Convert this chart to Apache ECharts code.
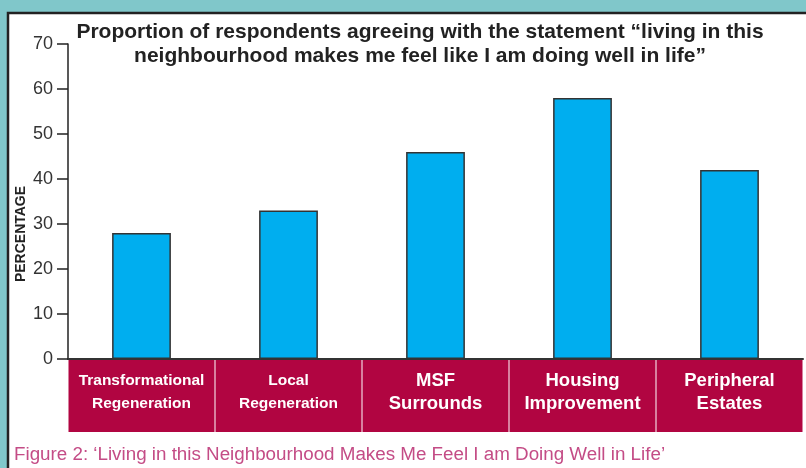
<!DOCTYPE html>
<html><head><meta charset="utf-8">
<script src="https://cdn.jsdelivr.net/npm/echarts@6/dist/echarts.min.js"></script>
<style>html,body{margin:0;padding:0;background:#80c7ca;}#c{width:806px;height:468px;}</style>
</head><body><div id="c"></div>
<script>
const categories = ['Transformational\nRegeneration', 'Local\nRegeneration', 'MSF\nSurrounds', 'Housing\nImprovement', 'Peripheral\nEstates'];
const narrowCats = ['Transformational\nRegeneration', 'Local\nRegeneration'];
const values = [28, 33, 46, 58, 42];
const yTicks = { min: 0, max: 70, interval: 10 };
const titleText = 'Proportion of respondents agreeing with the statement \u201cliving in this\nneighbourhood makes me feel like I am doing well in life\u201d';
const captionText = 'Figure 2: \u2018Living in this Neighbourhood Makes Me Feel I am Doing Well in Life\u2019';
const yName = 'PERCENTAGE';

const chart = echarts.init(document.getElementById('c'), null, {renderer: 'canvas'});
chart.setOption({
  backgroundColor: '#80c7ca',
  animation: false,
  graphic: [
    { type: 'rect', z: -10, shape: { x: 8, y: 13, width: 806, height: 468 }, style: { fill: '#fff', stroke: '#222', lineWidth: 2.5 } },
    { type: 'text', left: 14, top: 445, style: { text: captionText, fill: '#c44c86', font: '18.8px "Liberation Sans", Arial, sans-serif' } },
    { type: 'text', x: 21, y: 234, rotation: Math.PI / 2, style: { text: yName, fill: '#222', font: 'bold 14px "Liberation Sans", Arial, sans-serif', align: 'center', verticalAlign: 'middle' } }
  ],
  title: {
    text: titleText,
    left: 415, top: 15, textAlign: 'center',
    textStyle: { fontFamily: '"Liberation Sans", Arial, sans-serif', fontWeight: 'bold', fontSize: 21, color: '#222', lineHeight: 24 }
  },
  grid: { left: 68, right: 3, top: 44, bottom: 109 },
  xAxis: {
    type: 'category', data: categories,
    axisLine: { lineStyle: { color: '#333', width: 2 } },
    axisTick: { show: false },
    axisLabel: {
      interval: 0, margin: 1,
      width: 146, overflow: 'none',
      backgroundColor: '#b10541',
      padding: [9, 0, 17, 0],
      lineHeight: 23,
      align: 'center',
      color: '#fff', fontWeight: 'bold', fontSize: 18.5,
      fontFamily: '"Liberation Sans", Arial, sans-serif',
      formatter: function (v) {
        if (narrowCats.indexOf(v) >= 0) {
          return v.split('\n').map(function (s) { return '{n|' + s + '}'; }).join('\n');
        }
        return v;
      },
      rich: {
        n: { fontFamily: '"Liberation Sans", Arial, sans-serif', fontWeight: 'bold', fontSize: 15.5, color: '#fff', lineHeight: 23 }
      }
    }
  },
  yAxis: {
    type: 'value', min: yTicks.min, max: yTicks.max, interval: yTicks.interval,
    axisLine: { show: true, lineStyle: { color: '#222', width: 1.5 } },
    axisTick: { show: true, length: 11, lineStyle: { color: '#222', width: 1.5 } },
    splitLine: { show: false },
    axisLabel: { margin: 15, color: '#333', fontSize: 18, fontFamily: '"Liberation Sans", Arial, sans-serif' }
  },
  series: [{
    type: 'bar', data: values, barWidth: '40%',
    itemStyle: { color: '#00aeef', borderColor: '#333', borderWidth: 1.5 }
  }]
});
</script></body></html>
